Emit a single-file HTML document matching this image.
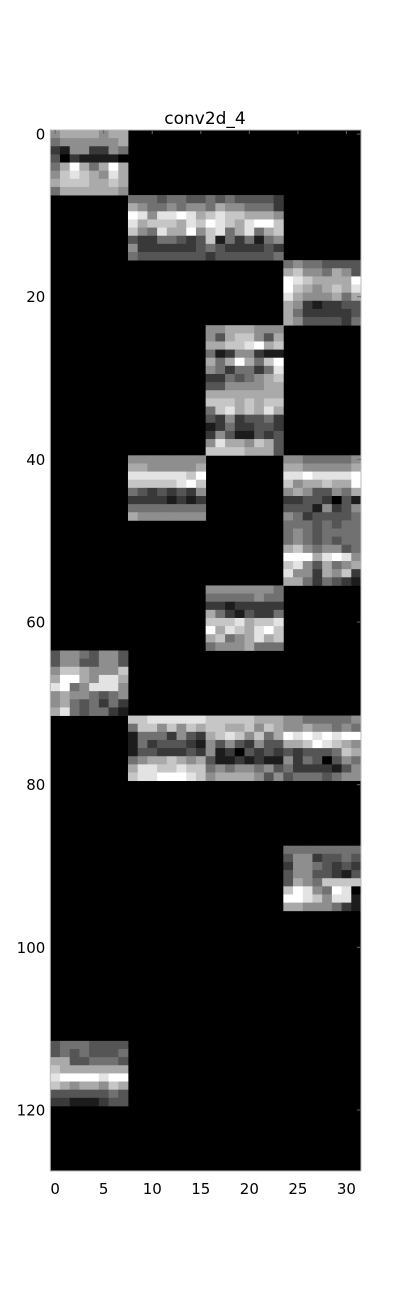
<!DOCTYPE html>
<html><head><meta charset="utf-8">
<style>
html,body{margin:0;padding:0;background:#fff;}
svg{display:block;font-family:"DejaVu Sans","Liberation Sans",sans-serif;}
</style></head>
<body>
<svg id="chart" width="400" height="1301" viewBox="0 0 400 1301" xmlns="http://www.w3.org/2000/svg">
  <rect x="0" y="0" width="400" height="1301" fill="#fff"/>
  <text x="205" y="124" text-anchor="middle" font-size="17" fill="#000">conv2d_4</text>
  <g id="plot"></g>
  <g id="axes"></g>
</svg>
<script>
// Data
const nRows = 128;
const nCols = 32;
const blockRowStarts = [0, 8, 16, 24, 32, 40, 40, 48, 56, 64, 72, 88, 112];
const blockColStarts = [0, 8, 24, 16, 16, 8, 24, 24, 16, 0, 8, 24, 0];
const blockValues = [
  ["56666566","45555556","21552254","30211110","46964696","57876586","67776676","46666665"],
  ["4443443343433332","6544545546554442","9858898678776665","8677768798768997","7548669578468467","3224432371424145","5222222343222232","4333333323333334"],
  ["45443333","67554653","98766669","97656768","86555646","65212233","64222223","65333324"],
  ["55666555","53677536","66778967","41255211","64696479","54244248","22434567","33555566"],
  ["66666666","77767677","47867686","32523342","12422332","25311323","58665763","77776663"],
  ["55555555","66555556","88888879","77777897","43232325","22221212","44444444","65555555"],
  ["55444445","66555556","88988889","75667669","56533546","22332031","33315235","54233334"],
  ["44434344","45434444","45434344","67545534","99968985","78536456","85526572","66424321"],
  ["55555554","44444544","22122222","64213224","77786778","96876897","67456867","45556444"],
  ["35543553","35533553","57765557","69965886","89458885","56554345","56434242","68434421"],
  ["778888887777766655444445","477575767766757655655454","144425326787574698989899","142333215353253366798765","133222325120323232333476","456676563112121152430354","688778774545545342222135","788999875666653534443455"],
  ["44444444","35523343","25543232","35533213","36547777","79854980","99875881","66555421"],
  ["34443333","34343334","66334443","76666666","89999899","76566576","33333343","22111233"]
];
const xTickValues = [0, 5, 10, 15, 20, 25, 30];
const yTickValues = [0, 20, 40, 60, 80, 100, 120];

// Layout
const L = 50.3, R = 361, T = 130, B = 1171;
const cw = (R - L) / nCols, rh = (B - T) / nRows;
const xPos = c => L + c * cw;
const yPos = r => T + r * rh;
const NS = "http://www.w3.org/2000/svg";
const plot = document.getElementById('plot');
const axes = document.getElementById('axes');

const bg = document.createElementNS(NS, 'rect');
bg.setAttribute('x', L); bg.setAttribute('y', T);
bg.setAttribute('width', R - L); bg.setAttribute('height', B - T);
bg.setAttribute('fill', '#000');


plot.appendChild(bg);

blockValues.forEach((rows, bi) => {
  const r0 = blockRowStarts[bi], c0 = blockColStarts[bi];
  rows.forEach((s, ri) => {
    for (let ci = 0; ci < s.length; ci++) {
      const v = +s[ci];
      const g = Math.round(v * 255 / 9);
      const cell = document.createElementNS(NS, 'rect');
      cell.setAttribute('x', xPos(c0 + ci).toFixed(2));
      cell.setAttribute('y', yPos(r0 + ri).toFixed(2));
      cell.setAttribute('width', (cw + 0.4).toFixed(2));
      cell.setAttribute('height', (rh + 0.4).toFixed(2));
      cell.setAttribute('fill', `rgb(${g},${g},${g})`);
      
      
      plot.appendChild(cell);
    }
  });
});

const frame = document.createElementNS(NS, 'rect');
frame.setAttribute('x', L); frame.setAttribute('y', T);
frame.setAttribute('width', R - L); frame.setAttribute('height', B - T);
frame.setAttribute('fill', 'none'); frame.setAttribute('stroke', '#bbb'); frame.setAttribute('stroke-width', '1');


axes.appendChild(frame);

xTickValues.forEach(v => {
  const x = xPos(v + 0.5);
  const t = document.createElementNS(NS, 'text');
  t.setAttribute('x', x.toFixed(2)); t.setAttribute('y', B + 23);
  t.setAttribute('text-anchor', 'middle'); t.setAttribute('font-size', '15');
  t.textContent = v;
  
  
  axes.appendChild(t);
  const tk = document.createElementNS(NS, 'line');
  tk.setAttribute('x1', x); tk.setAttribute('x2', x);
  tk.setAttribute('y1', T); tk.setAttribute('y2', T + 4);
  tk.setAttribute('stroke', '#666');
  
  
  axes.appendChild(tk);
});
yTickValues.forEach(v => {
  const y = yPos(v + 0.5);
  const t = document.createElementNS(NS, 'text');
  t.setAttribute('x', L - 5); t.setAttribute('y', (y + 5.5).toFixed(2));
  t.setAttribute('text-anchor', 'end'); t.setAttribute('font-size', '15');
  t.textContent = v;
  
  
  axes.appendChild(t);
  const tk = document.createElementNS(NS, 'line');
  tk.setAttribute('x1', R - 4); tk.setAttribute('x2', R);
  tk.setAttribute('y1', y); tk.setAttribute('y2', y);
  tk.setAttribute('stroke', '#666');
  
  
  axes.appendChild(tk);
});
</script>
</body></html>
